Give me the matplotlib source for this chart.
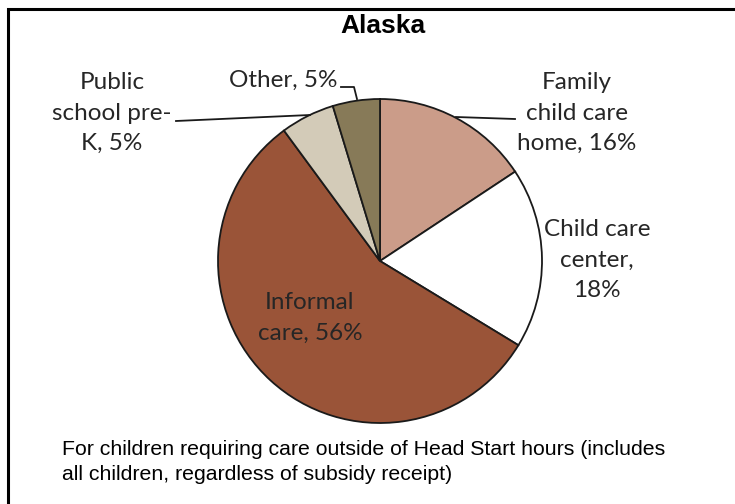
import matplotlib
matplotlib.use("Agg")
import matplotlib.pyplot as plt
from matplotlib.lines import Line2D

title = "Alaska"
categories = ["Family child care home", "Child care center", "Informal care",
              "Public school pre-K", "Other"]
values = [15.7, 18.0, 56.2, 5.4, 4.7]
labels = ["Family\nchild care\nhome, 16%", "Child care\ncenter,\n18%",
          "Informal\ncare, 56%", "Public\nschool pre-\nK, 5%", "Other, 5%"]
colors = ["#CB9C89", "#FFFFFF", "#9A5438", "#D3CBB8", "#877A58"]
footnote = ("For children requiring care outside of Head Start hours (includes\n"
            "all children, regardless of subsidy receipt)")

W, H = 735, 504
fig = plt.figure(figsize=(W / 100, H / 100), dpi=100)
ax = fig.add_axes([0, 0, 1, 1])


def Y(y):
    return H - y


cx, cy, r = 380, 261, 162
ax.pie(values, colors=colors, startangle=90, counterclock=False,
       center=(cx, Y(cy)), radius=r,
       wedgeprops=dict(edgecolor="#1a1a1a", linewidth=1.3))
ax.set_xlim(0, W)
ax.set_ylim(0, H)
ax.set_aspect("equal")
ax.axis("off")

lab_font = dict(family="Lato", fontsize=17.5, color="#262626",
                ha="center", va="center", linespacing=1.55)
label_pos = [(577, 113), (597, 260), (310, 318), (112, 113), (283, 80)]
for txt, (x, y) in zip(labels, label_pos):
    ax.text(x, Y(y), txt, **lab_font)

# leader lines
lc = dict(color="#1a1a1a", lw=1.3)
ax.add_line(Line2D([456, 515], [Y(117), Y(119)], **lc))
ax.add_line(Line2D([176, 310], [Y(121), Y(115)], **lc))
ax.add_line(Line2D([341, 354, 357], [Y(87), Y(87), Y(99)], **lc))

# title and footnote
ax.text(383, Y(26), title, family="Liberation Sans", fontweight="bold",
        fontsize=19, ha="center", va="center", color="black")
ax.text(62, Y(462), footnote, family="Liberation Sans", fontsize=15.3,
        ha="left", va="center", color="black", linespacing=1.4)

# frame (top and left edges visible)
ax.add_line(Line2D([8, 8, W + 5], [-5, Y(9), Y(9)], color="black", lw=2.2,
                   solid_joinstyle="miter"))

fig.savefig("out.png", dpi=100)
